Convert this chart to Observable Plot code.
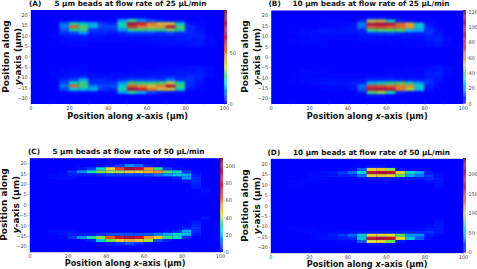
<!DOCTYPE html>
<html><head><meta charset="utf-8">
<script src="https://cdn.jsdelivr.net/npm/d3@7"></script>
<script src="https://cdn.jsdelivr.net/npm/@observablehq/plot@0.6"></script>
<style>
html,body{margin:0;padding:0;background:#fff;width:477px;height:269px;overflow:hidden}
.p{position:absolute}
svg{display:block;font-family:"DejaVu Sans"}
</style></head><body>
<script>
const xEdges = [0,5,10,15,20,25,30,35,40,45,50,55,60,65,70,75,80,85,90,95,100];
const rowCenters = [18.75,17.25,15.75,14.25,12.75,11.25,9.75,8.25,6.75,5.25,-5.25,-6.75,-8.25,-9.75,-11.25,-12.75,-14.25,-15.75,-17.25,-18.75];
const rowHalf = 0.75;
const xLabel = "Position along x-axis (µm)";
const yLabel1 = "Position along";
const yLabel2 = "y-axis (µm)";
const colorStops = [0,0.07,0.16,0.23,0.31,0.4,0.5,0.65,0.85,1];
const colorRange = ["#0000ff","#0038ff","#00a8ff","#00e0c0","#50e050","#e0e030","#f09020","#e01818","#b01040","#7a1020"];

const rowsA = [
[0,0,0,0,0,0,0,0,0,0,2,1,0,0,0,0,0,0,0,0],
[0,0,0,1,2,2,1,0,0,14,26,14,8,4,2,2,0,0,0,0],
[0,0,0,10,24,20,16,6,4,24,80,62,48,40,38,18,2,1,0,0],
[0,0,0,12,50,28,18,8,8,22,56,48,42,44,70,28,5,2,0,0],
[0,0,0,9,24,26,6,6,6,14,26,26,26,26,32,24,5,2,0,0],
[0,0,0,6,8,14,4,4,3,5,8,8,8,6,8,6,5,3,0,0],
[0,0,1,2,3,3,2,2,1,2,2,2,2,3,3,3,4,4,1,0],
[0,0,0,1,2,2,1,1,1,1,1,1,2,2,2,3,3,3,1,0],
[0,0,0,1,1,1,0,0,0,0,0,1,1,1,2,2,2,3,1,0],
[0,0,0,0,1,1,0,0,0,0,0,0,0,1,1,1,2,2,1,0],
[0,0,0,0,1,1,0,0,0,0,0,0,0,1,1,1,2,2,1,0],
[0,0,0,1,1,1,0,0,0,0,0,1,1,1,2,2,2,3,1,0],
[0,0,1,1,2,2,1,1,1,1,1,1,2,2,2,3,3,3,1,0],
[0,0,1,2,3,4,2,2,2,2,2,2,3,3,4,3,5,4,1,0],
[0,0,0,5,8,16,4,4,3,5,8,8,8,7,12,6,6,3,0,0],
[0,0,0,8,22,26,6,6,6,14,28,26,26,28,36,22,5,2,0,0],
[0,0,0,12,50,28,12,8,8,20,50,44,40,46,70,28,5,1,0,0],
[0,0,0,8,20,18,18,6,5,24,78,60,48,40,38,20,2,1,0,0],
[0,0,0,1,2,2,2,1,1,14,24,16,8,4,2,2,0,0,0,0],
[0,0,0,0,0,0,0,0,0,0,0,0,0,0,0,0,0,0,0,0]];
const maxA = 92; const ticksA = [0,50];

const rowsB = [
[0,0,0,0,0,0,0,0,0,0,4,4,0,0,0,0,0,0,0,0],
[0,0,0,0,0,0,1,0,0,6,46,54,28,6,2,0,0,0,0,0],
[0,0,0,0,0,0,1,1,2,16,90,104,92,66,54,26,3,0,0,0],
[0,0,0,0,0,1,1,2,3,14,70,72,68,66,60,26,5,1,0,0],
[0,0,0,1,2,4,3,3,4,6,32,36,36,36,24,20,8,2,0,0],
[0,0,1,2,2,3,2,2,2,3,7,8,9,7,4,4,7,3,0,0],
[0,0,0,1,2,1,1,1,1,2,2,2,2,2,2,2,4,4,1,0],
[0,0,1,1,2,2,1,1,1,2,1,1,1,1,1,1,4,5,1,0],
[0,0,0,1,1,1,0,0,0,0,0,0,1,1,1,1,2,3,1,0],
[0,0,0,0,0,1,0,0,0,0,0,0,0,0,1,1,2,3,1,1],
[0,0,0,0,0,1,0,0,0,0,0,0,0,0,1,1,2,3,1,1],
[0,0,0,1,1,1,0,0,0,0,0,0,1,1,1,1,3,3,1,0],
[0,0,1,1,2,1,1,1,1,1,1,1,1,1,1,1,4,5,1,0],
[0,0,0,1,1,1,1,1,1,1,2,2,2,2,2,2,4,4,1,0],
[0,0,1,2,2,2,2,2,2,3,6,7,8,6,4,4,6,3,0,0],
[0,0,0,1,2,3,4,3,4,6,24,28,34,38,30,20,8,2,0,0],
[0,0,0,0,0,1,2,2,3,14,72,70,66,62,60,28,5,1,0,0],
[0,0,0,0,0,1,1,1,2,12,94,106,94,64,44,24,3,0,0,0],
[0,0,0,0,0,0,1,0,0,4,36,44,28,6,1,0,0,0,0,0],
[0,0,0,0,0,0,0,0,0,0,3,3,0,0,0,0,0,0,0,0]];
const maxB = 122; const ticksB = [0,20,40,60,80,100,120];

const rowsC = [
[0,0,0,0,0,0,0,0,3,8,16,12,3,0,0,0,0,0,0,0],
[0,0,0,0,0,3,8,24,44,64,96,86,52,30,8,2,0,0,0,0],
[0,0,0,1,7,15,26,36,40,40,46,46,50,54,34,26,8,1,0,0],
[0,0,1,2,4,3,3,5,8,8,8,8,9,12,16,21,18,3,0,0],
[0,0,2,2,2,0,0,0,0,0,0,0,0,0,1,4,16,6,0,0],
[0,0,0,0,0,0,0,0,0,0,0,0,0,0,0,1,3,6,0,0],
[0,0,0,0,0,0,0,0,0,0,0,0,0,0,0,0,0,4,0,0],
[0,0,0,0,0,0,0,0,0,0,0,0,0,0,0,0,0,3,1,0],
[0,0,0,0,0,0,0,0,0,0,0,0,0,0,0,0,0,0,2,0],
[0,0,0,0,0,0,0,0,0,0,0,0,0,0,0,0,0,0,1,0],
[0,0,0,0,0,0,0,0,0,0,0,0,0,0,0,0,0,0,1,0],
[0,0,0,0,0,0,0,0,0,0,0,0,0,0,0,0,0,0,2,0],
[0,0,0,0,0,0,0,0,0,0,0,0,0,0,0,0,0,3,1,0],
[0,0,0,0,0,0,0,0,0,0,0,0,0,0,0,0,0,5,0,0],
[0,0,0,0,0,0,0,0,0,0,0,0,0,0,0,1,3,7,0,0],
[0,0,2,2,2,0,0,0,0,0,0,0,0,0,1,5,18,6,0,0],
[0,0,1,2,5,3,3,6,9,10,10,10,10,14,18,24,20,3,0,0],
[0,0,0,1,6,16,28,38,62,80,94,82,54,46,30,26,6,1,0,0],
[0,0,0,0,0,1,4,22,36,46,50,46,40,10,4,1,0,0,0,0],
[0,0,0,0,0,0,0,0,3,6,10,6,2,0,0,0,0,0,0,0]];
const maxC = 109; const ticksC = [0,20,40,60,80,100];

const rowsD = [
[0,0,0,0,0,0,0,0,0,2,6,6,3,0,0,0,0,0,0,0],
[0,0,0,0,0,0,0,1,4,24,100,106,84,6,0,0,0,0,0,0],
[0,0,0,0,2,4,8,14,26,54,185,208,190,100,56,38,6,1,0,0],
[0,0,0,0,2,4,6,10,13,28,100,104,100,78,38,30,14,3,0,0],
[0,0,0,2,3,3,2,1,1,3,6,6,6,6,6,8,12,6,0,0],
[0,0,2,2,2,1,0,0,0,0,0,0,0,0,0,1,3,6,0,0],
[0,0,1,1,1,0,0,0,0,0,0,0,0,0,0,0,1,5,0,0],
[0,0,0,0,0,0,0,0,0,0,0,0,0,0,0,0,0,2,0,0],
[0,0,0,0,0,0,0,0,0,0,0,0,0,0,0,0,0,0,0,0],
[0,0,0,0,0,0,0,0,0,0,0,0,0,0,0,0,0,0,0,0],
[0,0,0,0,0,0,0,0,0,0,0,0,0,0,0,0,0,0,0,0],
[0,0,0,0,0,0,0,0,0,0,0,0,0,0,0,0,0,2,0,0],
[0,0,0,0,0,0,0,0,0,0,0,0,0,0,0,0,1,5,0,0],
[0,0,1,1,1,0,0,0,0,0,0,0,0,0,0,1,2,6,0,0],
[0,0,2,2,2,1,1,0,0,0,0,0,0,0,1,2,6,6,0,0],
[0,0,0,2,3,3,3,3,4,6,8,8,8,8,10,12,14,5,0,0],
[0,0,0,0,2,4,8,16,26,50,100,100,98,76,36,34,8,1,0,0],
[0,0,0,0,2,4,6,10,12,48,182,205,188,98,48,24,3,0,0,0],
[0,0,0,0,0,0,0,1,2,24,96,100,78,6,0,0,0,0,0,0],
[0,0,0,0,0,0,0,0,0,1,5,5,2,0,0,0,0,0,0,0]];
const maxD = 242; const ticksD = [0,50,100,150,200];

const panels = [
 {tag:"(A)", title:"5 µm beads at flow rate of 25 µL/min", rows:rowsA, max:maxA, ticks:ticksA, box:[0,0,238,135], x0:30.3, x1:224, top:9.5, bottom:103.5, lab:[28.5,54], titleY:3, xlY:115.5, yl:[5.5,17.5], ylC:56, blur:0.8},
 {tag:"(B)", title:"10 µm beads at flow rate of 25 µL/min", rows:rowsB, max:maxB, ticks:ticksB, box:[238,0,239,135], x0:270.7, x1:462.7, top:10, bottom:103.5, lab:[268,292], titleY:3, xlY:115.5, yl:[245,257], ylC:56, blur:0.8},
 {tag:"(C)", title:"5 µm beads at flow rate of 50 µL/min", rows:rowsC, max:maxC, ticks:ticksC, box:[0,135,238,134], x0:29.3, x1:220, top:157.7, bottom:251.7, lab:[27.5,52], titleY:151.5, xlY:263, yl:[4,15.5], ylC:204, blur:0.7},
 {tag:"(D)", title:"10 µm beads at flow rate of 50 µL/min", rows:rowsD, max:maxD, ticks:ticksD, box:[238,135,239,134], x0:270.3, x1:463, top:158.3, bottom:252.7, lab:[267,292.5], titleY:152.5, xlY:264, yl:[245,257], ylC:205, blur:0.7}
];

function italicize(svg){
  d3.select(svg).selectAll("text").each(function(){
    const t = this.textContent;
    const m = /^(Position along )?([xy])(-axis.*)$/.exec(t);
    if(!m) return;
    const host = d3.select(this);
    const target = host.select("tspan").empty() ? host : host.select("tspan");
    target.text(null);
    if(m[1]) target.append("tspan").text(m[1]);
    target.append("tspan").attr("font-style","italic").text(m[2]);
    target.append("tspan").text(m[3]);
  });
}

for(const p of panels){
  const [bx,by,bw,bh] = p.box;
  const cy=(p.top+p.bottom)/2;
  const cells = [];
  p.rows.forEach((r,i)=>r.forEach((v,j)=>{
    if(v>0) cells.push({x1:xEdges[j],x2:xEdges[j+1],y1:rowCenters[i]-rowHalf,y2:rowCenters[i]+rowHalf,v});
  }));
  const color = {type:"linear",domain:colorStops.map(s=>s*p.max),range:colorRange,interpolate:"rgb"};
  const label = {fontSize:8.2,fontWeight:"bold",fill:"#111",text:d=>d};
  const ylabel = {...label,fontSize:9,frameAnchor:"left",textAnchor:"middle",rotate:-90};
  const fig = Plot.plot({
    width:bw,height:bh,
    marginLeft:p.x0-bx,marginRight:bx+bw-p.x1,marginTop:p.top-by,marginBottom:by+bh-p.bottom,
    style:{background:"transparent",fontFamily:"DejaVu Sans",overflow:"visible"},
    x:{domain:[0,100]},
    y:{domain:[-22.6,22.6]},
    color,
    marks:[
      Plot.frame({fill:"#0000ff"}),
      Plot.rect(cells,{x1:"x1",x2:"x2",y1:"y1",y2:"y2",fill:"v",imageFilter:`blur(${p.blur}px)`}),
      Plot.axisX(d3.range(0,101,20),{tickSize:1.5,tickPadding:1,fontSize:5,fill:"#444",stroke:"#888",strokeWidth:0.5,label:null}),
      Plot.axisX(d3.range(10,100,20),{tickSize:1.5,text:null,stroke:"#aaa",strokeWidth:0.4,label:null}),
      Plot.axisY(d3.range(-20,21,5),{tickSize:1.5,tickPadding:1.5,fontSize:5,fill:"#444",stroke:"#888",strokeWidth:0.5,label:null}),
      Plot.text([xLabel],{...label,frameAnchor:"bottom",dy:p.xlY-p.bottom,lineAnchor:"middle"}),
      Plot.text([yLabel1],{...ylabel,dx:p.yl[0]-p.x0,dy:p.ylC-cy}),
      Plot.text([yLabel2],{...ylabel,dx:p.yl[1]-p.x0,dy:p.ylC-cy}),
      Plot.text([p.tag],{frameAnchor:"top-left",dx:p.lab[0]-p.x0,dy:p.titleY-p.top,fontSize:7.3,fontWeight:"bold",fill:"#111",lineAnchor:"middle",textAnchor:"start",text:d=>d}),
      Plot.text([p.title],{frameAnchor:"top-left",dx:p.lab[1]-p.x0,dy:p.titleY-p.top,fontSize:7.3,fontWeight:"bold",fill:"#111",lineAnchor:"middle",textAnchor:"start",text:d=>d})
    ]
  });
  italicize(fig);
  const host = document.createElement("div");
  host.className = "p";
  host.style.cssText = `left:${bx}px;top:${by}px;width:${bw}px;height:${bh}px`;
  host.appendChild(fig);
  document.body.appendChild(host);

  // colour bar
  const barH = p.bottom-p.top;
  const ramp = d3.range(0,101).map(i=>({a:i*p.max/101,b:(i+1)*p.max/101}));
  const bar = Plot.plot({
    width:3,height:barH,marginLeft:0,marginRight:0,marginTop:0,marginBottom:0,
    style:{background:"transparent",fontFamily:"DejaVu Sans",overflow:"visible"},
    x:{axis:null,domain:[0,1]},
    y:{domain:[0,p.max],axis:null},
    color,
    marks:[
      Plot.rect(ramp,{x1:0,x2:1,y1:"a",y2:"b",fill:"a"}),
      Plot.axisY(p.ticks,{anchor:"right",tickSize:1,tickPadding:1,fontSize:5,fill:"#444",stroke:"#888",strokeWidth:0.5,label:null})
    ]
  });
  const h2 = document.createElement("div");
  h2.className = "p";
  h2.style.cssText = `left:${p.x1}px;top:${p.top}px;width:3px;height:${barH}px`;
  h2.appendChild(bar);
  document.body.appendChild(h2);
}
</script>
</body></html>
